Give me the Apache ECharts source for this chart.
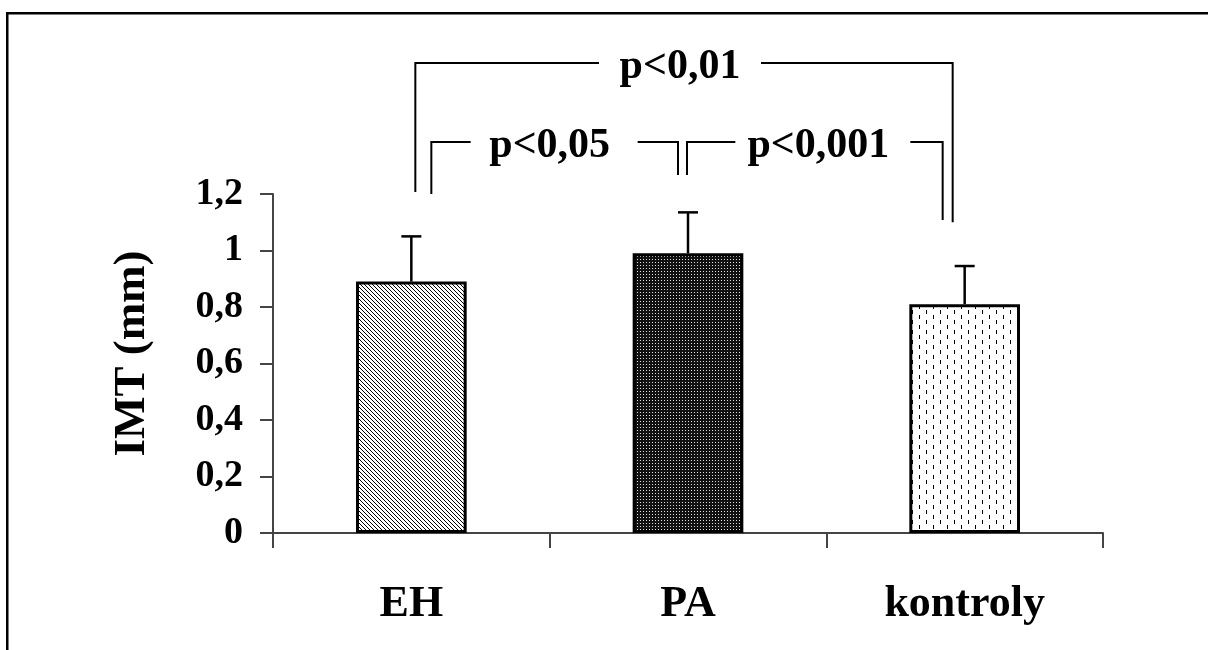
<!DOCTYPE html>
<html>
<head>
<meta charset="utf-8">
<script src="https://cdn.jsdelivr.net/npm/echarts@6/dist/echarts.min.js"></script>
<style>
html,body{margin:0;padding:0;background:#fff;overflow:hidden;}
#chart{width:1208px;height:650px;}
</style>
</head>
<body>
<div id="chart"></div>
<script>
// ---- data ----
const categories = ['EH', 'PA', 'kontroly'];
const meanIMT = [0.89, 0.99, 0.81];
const sdIMT = [0.16, 0.145, 0.135];
const compFrom = [0, 0, 1];
const compTo = [2, 1, 2];
const compLabels = ['p<0,01', 'p<0,05', 'p<0,001'];
const yAxisTitle = 'IMT (mm)';

const FONT = '"Liberation Serif", "Times New Roman", serif';

function makePattern(w, h, bg, draw) {
  const c = document.createElement('canvas');
  c.width = w; c.height = h;
  const g = c.getContext('2d');
  g.fillStyle = bg; g.fillRect(0, 0, w, h);
  draw(g);
  return c;
}
const patEH = makePattern(4, 4, '#ffffff', g => {
  g.fillStyle = '#000';
  for (let i = 0; i < 4; i++) g.fillRect(i, i, 1, 1);
});
const patPA = makePattern(3, 3, '#111111', g => {
  g.fillStyle = '#e0e0e0';
  g.fillRect(1, 1, 1, 1);
});
const patK = makePattern(14, 10, '#ffffff', g => {
  g.fillStyle = '#000';
  g.fillRect(2, 0, 1, 4);
  g.fillRect(9, 5, 1, 4);
});
const patterns = [patEH, patPA, patK];

const chart = echarts.init(document.getElementById('chart'), null, {renderer: 'canvas'});

const option = {
  backgroundColor: '#ffffff',
  animation: false,
  grid: {left: 273, right: 105, top: 194, bottom: 117, containLabel: false, outerBoundsMode: 'none'},
  xAxis: {
    type: 'category',
    data: categories,
    boundaryGap: true,
    axisLine: {show: true, lineStyle: {color: '#444', width: 2}},
    axisTick: {show: true, length: 15, lineStyle: {color: '#444', width: 2}},
    axisLabel: {color: '#000', fontFamily: FONT, fontWeight: 'bold', fontSize: 44, margin: 50},
    splitLine: {show: false}
  },
  yAxis: {
    type: 'value',
    min: 0, max: 1.2, interval: 0.2,
    name: yAxisTitle,
    nameLocation: 'middle',
    nameRotate: 90,
    nameGap: 118,
    nameTextStyle: {color: '#000', fontFamily: FONT, fontWeight: 'bold', fontSize: 45, padding: [0, 0, 0, 20]},
    axisLine: {show: true, lineStyle: {color: '#444', width: 2}},
    axisTick: {show: true, inside: false, length: 13, lineStyle: {color: '#444', width: 2}},
    axisLabel: {
      color: '#000', fontFamily: FONT, fontWeight: 'bold', fontSize: 38, margin: 30,
      formatter: v => (Math.abs(v - Math.round(v)) < 1e-9 ? String(Math.round(v)) : v.toFixed(1).replace('.', ','))
    },
    splitLine: {show: false}
  },
  series: [
    {
      type: 'bar',
      barWidth: '40%',
      data: meanIMT.map((v, i) => ({
        value: v,
        itemStyle: {color: {image: patterns[i], repeat: 'repeat'}, borderColor: '#000', borderWidth: 3}
      })),
      z: 2
    },
    {
      type: 'custom',
      z: 3,
      data: categories.map((c, i) => [i, meanIMT[i], sdIMT[i]]),
      renderItem: function (params, api) {
        const x = api.value(0), m = api.value(1), s = api.value(2);
        const p0 = api.coord([x, m]);
        const p1 = api.coord([x, m + s]);
        const st = {stroke: '#000', lineWidth: 2.5};
        return {
          type: 'group',
          children: [
            {type: 'line', shape: {x1: p0[0], y1: p0[1], x2: p1[0], y2: p1[1]}, style: st},
            {type: 'line', shape: {x1: p1[0] - 10, y1: p1[1], x2: p1[0] + 10, y2: p1[1]}, style: st}
          ]
        };
      }
    }
  ]
};
chart.setOption(option);

// ---- significance brackets (layout, computed through the axes) ----
const bracketLayout = [
  {yv: 1.664, dxL: 4, dxR: -12, botL: 1.207, botR: 1.10, tx: -8, refMid: 'c1', gapL: 81, gapR: 81},
  {yv: 1.384, dxL: 20, dxR: -10, botL: 1.20, botR: 1.267, tx: 0, refMid: 'mid', gapL: 79, gapR: 88},
  {yv: 1.384, dxL: -1, dxR: -22, botL: 1.267, botR: 1.108, tx: -8, refMid: 'mid', gapL: 83, gapR: 92}
];
function px(i, v) { return chart.convertToPixel({gridIndex: 0}, [i, v]); }
const graphics = [];
compLabels.forEach((lab, k) => {
  const L = bracketLayout[k];
  const a = compFrom[k], b = compTo[k];
  const xa = px(a, 0)[0] + L.dxL;
  const xb = px(b, 0)[0] + L.dxR;
  const y = px(a, L.yv)[1];
  const ya = px(a, L.botL)[1];
  const yb = px(b, L.botR)[1];
  let tc;
  if (L.refMid === 'c1') tc = px(1, 0)[0] + L.tx;
  else tc = (px(a, 0)[0] + px(b, 0)[0]) / 2 + L.tx;
  const st = {stroke: '#000', lineWidth: 2, fill: null};
  graphics.push({type: 'polyline', shape: {points: [[xa, ya], [xa, y], [tc - L.gapL, y]]}, style: st, silent: true});
  graphics.push({type: 'polyline', shape: {points: [[tc + L.gapR, y], [xb, y], [xb, yb]]}, style: st, silent: true});
  graphics.push({
    type: 'text', x: tc, y: y + 4, silent: true,
    style: {text: lab, fill: '#000', font: 'bold 42px ' + FONT, textAlign: 'center', textVerticalAlign: 'middle'}
  });
});
// outer frame (only top and left edges are inside the picture), drawn as filled bars
graphics.push({type: 'rect', shape: {x: 6, y: 12, width: 1210, height: 2.5}, style: {fill: '#000'}, silent: true});
graphics.push({type: 'rect', shape: {x: 6, y: 12, width: 2.5, height: 700}, style: {fill: '#000'}, silent: true});
chart.setOption({graphic: graphics});
</script>
</body>
</html>
